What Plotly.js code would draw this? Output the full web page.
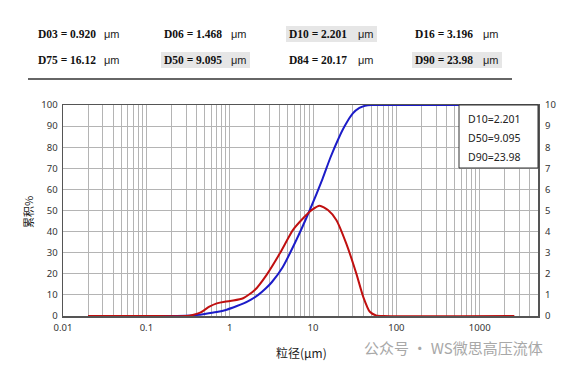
<!DOCTYPE html>
<html><head><meta charset="utf-8">
<script src="https://cdn.plot.ly/plotly-3.0.1.min.js"></script>
<style>html,body{margin:0;padding:0;background:#fff}#c{width:574px;height:369px}</style>
</head><body><div id="c"></div>
<script>
// Data
const sizeCum = [0.02, 0.1, 0.2, 0.3, 0.4, 0.5, 0.7, 0.92, 1.2, 1.468, 1.8, 2.201, 2.7, 3.196, 4.3, 6.3, 9.095, 13, 16.12, 20.17, 23.98, 30, 36, 42, 50, 100, 2600];
const cumPct  = [0, 0, 0, 0.1, 0.5, 1.0, 1.9, 3, 4.6, 6, 7.8, 10, 13, 16, 23, 36, 50, 65, 75, 84, 90, 96, 98.6, 99.6, 100, 100, 100];
const sizeFreq = [0.02, 0.1, 0.3, 0.36, 0.45, 0.57, 0.7, 0.87, 1.1, 1.45, 2.0, 2.76, 4.0, 5.75, 7.6, 9.6, 12, 15.1, 19, 25, 33, 40, 48, 57, 70, 2600];
const freqPct  = [0, 0, 0, 0.05, 0.17, 0.44, 0.6, 0.68, 0.73, 0.84, 1.23, 1.94, 2.97, 4.08, 4.63, 5.02, 5.23, 5.02, 4.55, 3.44, 2.02, 0.91, 0.2, 0.03, 0, 0];
const headerNames = ['D03', 'D06', 'D10', 'D16', 'D75', 'D50', 'D84', 'D90'];
const headerVals  = ['0.920', '1.468', '2.201', '3.196', '16.12', '9.095', '20.17', '23.98'];
const highlighted = ['D10', 'D50', 'D90'];
const boxLines = ['D10=2.201', 'D50=9.095', 'D90=23.98'];
const decadeTicks = [0.01, 0.1, 1, 10, 100, 1000];
const decadeLabels = ['0.01', '0.1', '1', '10', '100', '1000'];
const unit = 'μm';

// layout geometry in px
const L = 63, R = 538, T = 105, B = 316;
const px = x => (x - L) / (R - L);
const py = y => (B - y) / (B - T);

const tickvals = [], ticktext = [];
decadeTicks.forEach((d, i) => {
  for (let k = 1; k <= 9; k++) {
    const v = d * k;
    if (v > 5000) break;
    tickvals.push(v);
    ticktext.push(k === 1 ? decadeLabels[i] : '');
  }
});

const colX = [36, 162, 287, 413];
const unitX = [102, 229, 356, 481];
const rowY = [34, 60];
const annotations = [], shapes = [];
headerNames.forEach((n, i) => {
  const c = i % 4, r = Math.floor(i / 4);
  if (highlighted.includes(n)) {
    shapes.push({type: 'rect', xref: 'paper', yref: 'paper', layer: 'below',
      x0: px(colX[c] - 1), x1: px(unitX[c] + 21), y0: py(rowY[r] - 8), y1: py(rowY[r] + 8),
      fillcolor: '#e6e6e6', line: {width: 0}});
  }
  annotations.push({xref: 'paper', yref: 'paper', x: px(colX[c]), y: py(rowY[r]), xanchor: 'left', yanchor: 'middle',
    text: '<b>' + n + ' = ' + headerVals[i] + '</b>', showarrow: false,
    font: {family: 'Liberation Serif', size: 11.5, color: '#111'}});
  annotations.push({xref: 'paper', yref: 'paper', x: px(unitX[c]), y: py(rowY[r]), xanchor: 'left', yanchor: 'middle',
    text: unit, showarrow: false, font: {family: 'Liberation Sans', size: 11, color: '#222'}});
});
shapes.push({type: 'line', xref: 'paper', yref: 'paper', x0: px(28), x1: px(512), y0: py(79), y1: py(79),
  line: {color: '#333', width: 1.5}});
// legend box
shapes.push({type: 'rect', xref: 'paper', yref: 'paper', x0: px(459), x1: px(538), y0: py(168), y1: py(105),
  fillcolor: '#fff', line: {color: '#333', width: 1}});
boxLines.forEach((t, i) => {
  annotations.push({xref: 'paper', yref: 'paper', x: px(466), y: py(119 + i * 19), xanchor: 'left', yanchor: 'middle',
    text: t, showarrow: false, font: {family: 'Noto Sans', size: 10.5, color: '#222'}});
});
// axis titles
annotations.push({xref: 'paper', yref: 'paper', x: px(28), y: py(212), xanchor: 'center', yanchor: 'middle',
  text: '累积%', textangle: -90, showarrow: false,
  font: {family: 'Noto Sans CJK SC', size: 11, color: '#222'}});
annotations.push({xref: 'paper', yref: 'paper', x: px(301), y: py(352), xanchor: 'center', yanchor: 'middle',
  text: '粒径(μm)', showarrow: false,
  font: {family: 'Noto Sans CJK SC', size: 12, color: '#222'}});
// watermark
annotations.push({xref: 'paper', yref: 'paper', x: px(362), y: py(347), xanchor: 'left', yanchor: 'middle',
  text: '公众号 · WS微思高压流体', showarrow: false,
  font: {family: 'Noto Sans CJK SC', size: 15, color: '#a8a8a8'}});

const data = [
  {x: sizeFreq, y: freqPct, type: 'scatter', mode: 'lines', line: {color: '#c01010', width: 2, shape: 'spline', smoothing: 0.6}, yaxis: 'y2', hoverinfo: 'skip'},
  {x: sizeCum, y: cumPct, type: 'scatter', mode: 'lines', line: {color: '#1c1cc8', width: 2, shape: 'spline', smoothing: 0.6}, yaxis: 'y', hoverinfo: 'skip'}
];
const tickFont = {family: 'Noto Sans', size: 9.5, color: '#333'};
const layout = {
  width: 574, height: 369,
  margin: {l: L, r: 574 - R, t: T, b: 369 - B},
  paper_bgcolor: '#fff', plot_bgcolor: '#fff',
  showlegend: false,
  xaxis: {type: 'log', range: [-2, Math.log10(5000)], tickmode: 'array', tickvals: tickvals, ticktext: ticktext,
    showgrid: true, gridcolor: '#b4b4b4', gridwidth: 1, zeroline: false, ticks: '', tickfont: tickFont,
    ticklabelstandoff: 2,
    showline: true, linecolor: '#555', linewidth: 1.5, mirror: true},
  yaxis: {range: [0, 100], dtick: 10, showgrid: true, gridcolor: '#b4b4b4', gridwidth: 1, zeroline: false, ticks: '',
    tickfont: tickFont, ticklabelstandoff: 2, showline: true, linecolor: '#555', linewidth: 1.5, mirror: true},
  yaxis2: {range: [0, 10], dtick: 1, overlaying: 'y', side: 'right', showgrid: false, zeroline: false, ticks: '',
    tickfont: tickFont, ticklabelstandoff: 6, showline: false},
  shapes: shapes,
  annotations: annotations
};
Plotly.newPlot('c', data, layout, {staticPlot: true});
</script></body></html>
